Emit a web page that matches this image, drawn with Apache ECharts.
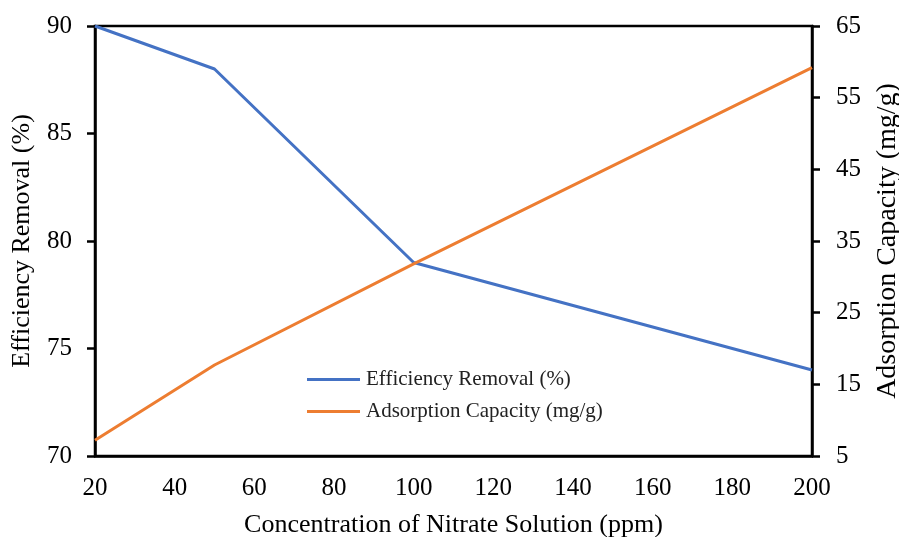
<!DOCTYPE html>
<html><head><meta charset="utf-8">
<script src="https://cdn.jsdelivr.net/npm/echarts@6/dist/echarts.min.js"></script>
<style>html,body{margin:0;padding:0;background:#fff}#c{width:899px;height:537px}</style>
</head><body><div id="c"></div>
<script>
const concentration = [20, 50, 100, 200];
const efficiencyRemoval = [90, 88, 79, 74];
const adsorptionCapacity = [7.2, 17.7, 31.8, 59.2];
const seriesNames = ['Efficiency Removal (%)', 'Adsorption Capacity (mg/g)'];

const font = 'Liberation Serif';
const chart = echarts.init(document.getElementById('c'), null, {renderer: 'canvas'});
const axisLine = {show: true, lineStyle: {color: '#000', width: 2.5}};
chart.setOption({
  animation: false,
  backgroundColor: '#fff',
  grid: {left: 95, right: 87, top: 26, bottom: 81, show: true, borderColor: '#000', borderWidth: 2.5, backgroundColor: 'transparent', containLabel: false, outerBoundsMode: 'none'},
  legend: {
    data: seriesNames, orient: 'vertical', left: 307, top: 369, padding: 0,
    icon: 'rect', itemWidth: 53, itemHeight: 3, itemGap: 11,
    textStyle: {fontFamily: font, fontSize: 21, color: '#222', padding: [0, 0, 0, 1]}
  },
  xAxis: {
    type: 'value', min: 20, max: 200, interval: 20,
    name: 'Concentration of Nitrate Solution (ppm)', nameLocation: 'middle', nameGap: 56,
    nameTextStyle: {fontFamily: font, fontSize: 26, color: '#000'},
    axisLine: axisLine, axisTick: {show: false}, splitLine: {show: false},
    axisLabel: {fontFamily: font, fontSize: 25, color: '#000', margin: 20}
  },
  yAxis: [{
    type: 'value', min: 70, max: 90, interval: 5, position: 'left',
    name: 'Efficiency Removal (%)', nameLocation: 'middle', nameGap: 60,
    nameTextStyle: {fontFamily: font, fontSize: 26, color: '#000'},
    axisLine: axisLine, axisTick: {show: true, inside: false, length: 8, lineStyle: {color: '#000', width: 2.5}},
    splitLine: {show: false},
    axisLabel: {fontFamily: font, fontSize: 25, color: '#000', margin: 23}
  }, {
    type: 'value', min: 5, max: 65, interval: 10, position: 'right',
    name: 'Adsorption Capacity (mg/g)', nameLocation: 'middle', nameGap: 62,
    nameTextStyle: {fontFamily: font, fontSize: 28, color: '#000'},
    axisLine: axisLine, axisTick: {show: true, inside: false, length: 8, lineStyle: {color: '#000', width: 2.5}},
    splitLine: {show: false},
    axisLabel: {fontFamily: font, fontSize: 25, color: '#000', margin: 24}
  }],
  series: [{
    name: seriesNames[0], type: 'line', yAxisIndex: 0, showSymbol: false, symbol: 'none',
    data: concentration.map((x, i) => [x, efficiencyRemoval[i]]),
    lineStyle: {color: '#4472C4', width: 3}, itemStyle: {color: '#4472C4'}
  }, {
    name: seriesNames[1], type: 'line', yAxisIndex: 1, showSymbol: false, symbol: 'none',
    data: concentration.map((x, i) => [x, adsorptionCapacity[i]]),
    lineStyle: {color: '#ED7D31', width: 3}, itemStyle: {color: '#ED7D31'}
  }]
});
</script></body></html>
